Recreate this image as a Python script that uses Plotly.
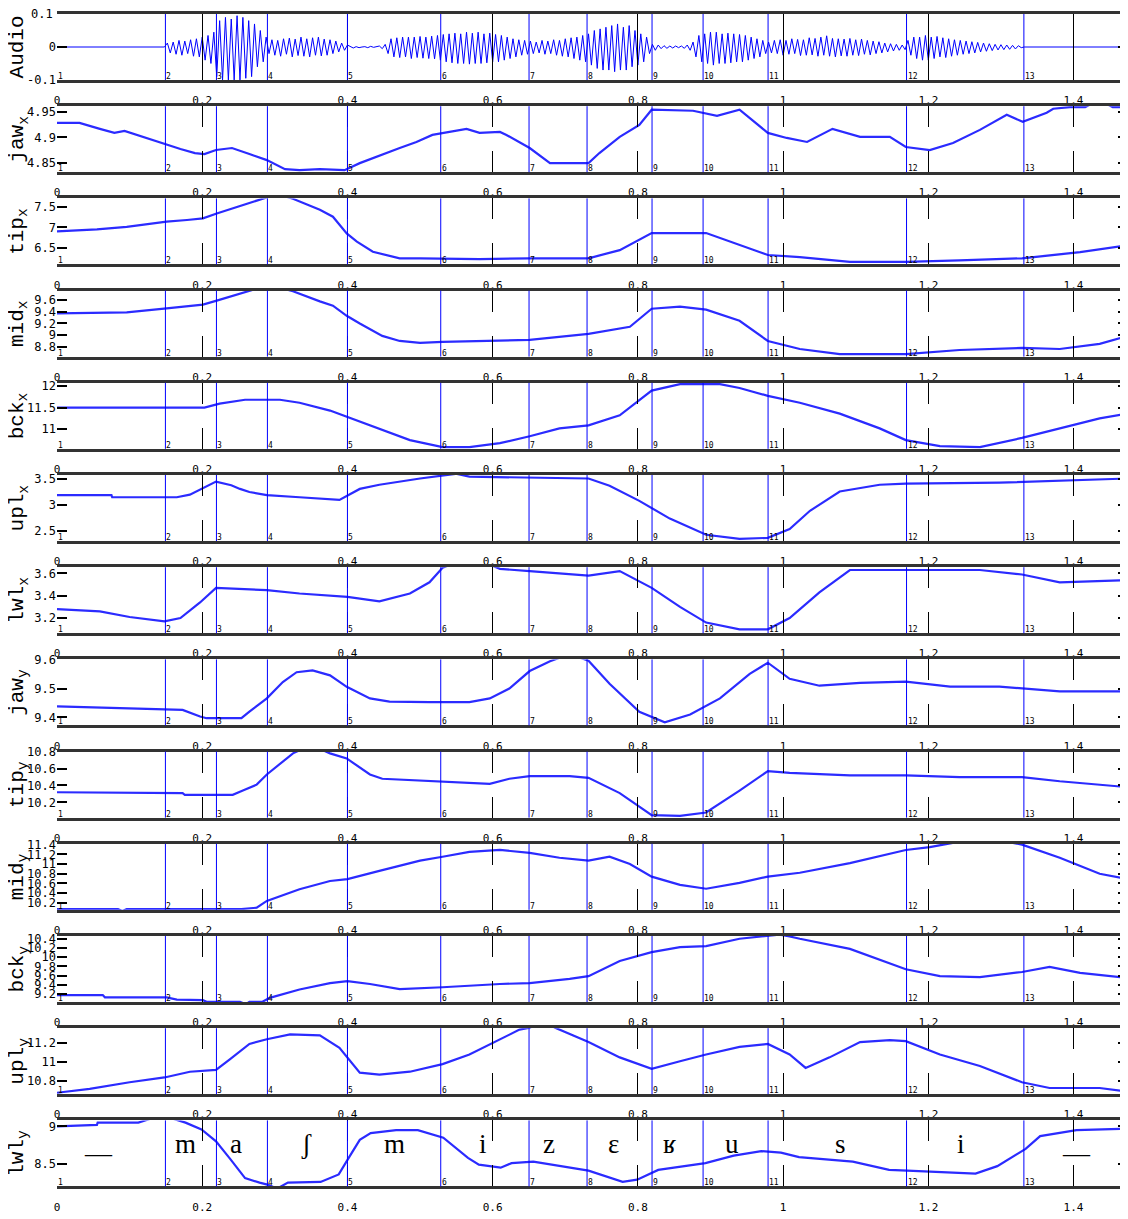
import plotly.graph_objects as go

# ---------------- data ----------------
x_ticks = [0, 0.2, 0.4, 0.6, 0.8, 1.0, 1.2, 1.4]
x_max = 1.475

boundaries = [0.0, 0.1493, 0.2196, 0.2898, 0.4000, 0.5285, 0.6501, 0.7300,
              0.8195, 0.8898, 0.9793, 1.1700, 1.3316]
boundary_labels = ["1", "2", "3", "4", "5", "6", "7", "8", "9", "10", "11", "12", "13"]

phones = ["—", "m", "a", "ʃ", "m", "i", "z", "ɛ", "ʁ", "u", "s", "i", "—"]
phone_x = [0.057, 0.177, 0.247, 0.343, 0.465, 0.586, 0.678, 0.766, 0.843, 0.930, 1.079, 1.245, 1.404]
phone_y = 8.76

panel_titles = ["Audio", "jaw<sub>x</sub>", "tip<sub>x</sub>", "mid<sub>x</sub>", "bck<sub>x</sub>",
                "upl<sub>x</sub>", "lwl<sub>x</sub>", "jaw<sub>y</sub>", "tip<sub>y</sub>",
                "mid<sub>y</sub>", "bck<sub>y</sub>", "upl<sub>y</sub>", "lwl<sub>y</sub>"]

# audio samples (start time, sample step, values)
audio_t0 = 0.148
audio_dt = 0.004
audio_vals = [
    0.0, 0.012, -0.018, 0.015, -0.022, 0.02, -0.025, 0.018, -0.02, 0.022, -0.028, 0.025, -0.03,
    0.03, -0.04, 0.035, -0.05, 0.045,
    -0.09, 0.08, -0.1, 0.09, -0.1, 0.085, -0.1, 0.095, -0.1, 0.09, -0.095, 0.08, -0.09, 0.07,
    -0.06, 0.05, -0.045, 0.03,
    -0.02, 0.022, -0.025, 0.02, -0.028, 0.025, -0.022, 0.027, -0.03, 0.024, -0.026, 0.03, -0.028, 0.025,
    -0.03, 0.028, -0.025, 0.03, -0.027, 0.024, -0.025, 0.022, -0.02, 0.018, -0.015, 0.012, -0.01, 0.006,
    0.002, -0.003, 0.001, -0.002, 0.0, 0.001, -0.002, 0.002, -0.001, 0.0, 0.003, -0.005, 0.008,
    -0.02, 0.025, -0.03, 0.028, -0.032, 0.03, -0.03, 0.03, -0.035, 0.03, -0.032, 0.032, -0.034, 0.03,
    -0.035, 0.033, -0.036, 0.035,
    -0.04, 0.038, -0.045, 0.04, -0.048, 0.042, -0.05, 0.04, -0.05, 0.045, -0.052, 0.042, -0.05, 0.045,
    -0.05, 0.04, -0.048, 0.042, -0.045, 0.038, -0.045, 0.035, -0.04, 0.03, -0.035, 0.025, -0.03, 0.022,
    -0.025, 0.02, -0.022,
    0.018, -0.02, 0.015, -0.018, 0.02, -0.022, 0.018, -0.02, 0.022, -0.025, 0.02, -0.028, 0.025, -0.03,
    0.028, -0.035, 0.03, -0.04, 0.035, -0.045,
    0.04, -0.055, 0.05, -0.065, 0.055, -0.07, 0.06, -0.07, 0.065, -0.075, 0.07, -0.07, 0.06, -0.07,
    0.065, -0.06, 0.05, -0.055, 0.04, -0.045, 0.03, -0.02,
    0.008, -0.01, 0.006, -0.005, 0.004, -0.004, 0.003, -0.003, 0.003, -0.002, 0.003, -0.004, 0.006, -0.01, 0.015,
    -0.03, 0.035, -0.045, 0.04, -0.05, 0.045, -0.055, 0.045, -0.05, 0.04, -0.05, 0.042, -0.048, 0.04,
    -0.045, 0.038, -0.045, 0.035, -0.04, 0.03, -0.035, 0.025, -0.03, 0.02, -0.02,
    0.015, -0.018, 0.02, -0.02, 0.022, -0.025, 0.02, -0.022, 0.025, -0.02, 0.023, -0.026, 0.022, -0.025,
    0.028, -0.024, 0.026, -0.028, 0.03, -0.025, 0.034, -0.028, 0.026, -0.03, 0.025, -0.027, 0.024, -0.028,
    0.026, -0.025, 0.022, -0.026, 0.024, -0.022, 0.02, -0.024, 0.018, -0.02, 0.016, -0.018, 0.012, -0.015,
    0.01, -0.012, 0.008, -0.01, 0.006, -0.008,
    0.02, -0.025, 0.03, -0.035, 0.03, -0.04, 0.035, -0.04, 0.03, -0.035, 0.032, -0.03, 0.028, -0.032,
    0.025, -0.028, 0.022, -0.025, 0.02, -0.022, 0.018, -0.02, 0.016, -0.018, 0.014, -0.015, 0.012, -0.013,
    0.01, -0.011, 0.008, -0.009, 0.007, -0.008, 0.006, -0.007, 0.005, -0.006, 0.004, -0.002,
]

jaw_x_t = [0, 0.031, 0.059, 0.079, 0.093, 0.114, 0.148, 0.170, 0.190, 0.203, 0.219, 0.241, 0.265, 0.289,
           0.314, 0.334, 0.362, 0.396, 0.417, 0.444, 0.472, 0.495, 0.517, 0.564, 0.582, 0.610, 0.619,
           0.651, 0.679, 0.732, 0.747, 0.775, 0.802, 0.819, 0.876, 0.909, 0.940, 0.979, 1.005, 1.033,
           1.068, 1.106, 1.147, 1.169, 1.202, 1.234, 1.271, 1.308, 1.330, 1.363, 1.372, 1.395, 1.416,
           1.435, 1.454, 1.475]
jaw_x_v = [4.929, 4.929, 4.917, 4.909, 4.913, 4.903, 4.887, 4.877, 4.869, 4.867, 4.875, 4.879, 4.867, 4.855,
           4.837, 4.835, 4.837, 4.835, 4.849, 4.863, 4.879, 4.891, 4.905, 4.917, 4.909, 4.911, 4.905,
           4.879, 4.849, 4.849, 4.869, 4.901, 4.925, 4.955, 4.953, 4.943, 4.955, 4.909, 4.899, 4.891,
           4.917, 4.901, 4.901, 4.881, 4.875, 4.889, 4.915, 4.945, 4.931, 4.949, 4.957, 4.960, 4.960,
           4.975, 4.960, 4.960]

tip_x_t = [0, 0.055, 0.096, 0.151, 0.179, 0.201, 0.220, 0.242, 0.270, 0.283, 0.304, 0.325, 0.334, 0.362,
           0.380, 0.399, 0.413, 0.435, 0.472, 0.500, 0.582, 0.651, 0.732, 0.775, 0.819, 0.894, 0.979,
           1.023, 1.092, 1.169, 1.243, 1.329, 1.409, 1.475]
tip_x_v = [6.90, 6.95, 7.01, 7.14, 7.18, 7.22, 7.34, 7.47, 7.63, 7.70, 7.82, 7.70, 7.63, 7.43,
           7.26, 6.85, 6.65, 6.40, 6.24, 6.24, 6.22, 6.24, 6.24, 6.44, 6.86, 6.86, 6.32,
           6.27, 6.15, 6.15, 6.19, 6.24, 6.39, 6.56]

mid_x_t = [0, 0.096, 0.151, 0.179, 0.201, 0.220, 0.242, 0.261, 0.293, 0.325, 0.334, 0.362, 0.380, 0.399,
           0.417, 0.448, 0.472, 0.500, 0.531, 0.651, 0.732, 0.789, 0.819, 0.858, 0.894, 0.940, 0.979,
           1.023, 1.078, 1.169, 1.243, 1.329, 1.381, 1.436, 1.475]
mid_x_v = [9.369, 9.386, 9.455, 9.484, 9.519, 9.588, 9.674, 9.748, 9.86, 9.748, 9.703, 9.576, 9.502, 9.329,
           9.197, 8.984, 8.898, 8.864, 8.881, 8.916, 9.019, 9.140, 9.450, 9.484, 9.433, 9.243, 8.898,
           8.760, 8.674, 8.674, 8.743, 8.778, 8.760, 8.847, 8.984]

bck_x_t = [0, 0.203, 0.224, 0.259, 0.307, 0.334, 0.376, 0.431, 0.486, 0.531, 0.568, 0.610, 0.651, 0.692,
           0.732, 0.775, 0.819, 0.858, 0.913, 0.940, 0.979, 1.023, 1.078, 1.133, 1.169, 1.216, 1.271,
           1.329, 1.381, 1.436, 1.475]
bck_x_v = [11.50, 11.50, 11.59, 11.68, 11.68, 11.61, 11.43, 11.09, 10.75, 10.59, 10.59, 10.68, 10.84, 11.02,
           11.09, 11.32, 11.89, 12.04, 12.04, 11.95, 11.77, 11.61, 11.36, 11.02, 10.75, 10.61, 10.59,
           10.80, 11.02, 11.25, 11.36]

upl_x_t = [0, 0.075, 0.076, 0.165, 0.183, 0.219, 0.240, 0.252, 0.265, 0.289, 0.334, 0.389, 0.417, 0.444,
           0.500, 0.531, 0.550, 0.568, 0.651, 0.732, 0.761, 0.802, 0.844, 0.894, 0.940, 0.979, 1.009,
           1.037, 1.078, 1.133, 1.169, 1.298, 1.475]
upl_x_v = [3.19, 3.19, 3.15, 3.15, 3.20, 3.45, 3.38, 3.31, 3.25, 3.19, 3.15, 3.10, 3.31, 3.39,
           3.51, 3.56, 3.60, 3.545, 3.525, 3.51, 3.37, 3.08, 2.74, 2.43, 2.35, 2.37, 2.54,
           2.89, 3.26, 3.39, 3.41, 3.43, 3.51]

lwl_x_t = [0, 0.059, 0.100, 0.148, 0.170, 0.197, 0.219, 0.252, 0.289, 0.334, 0.400, 0.444, 0.486, 0.513,
           0.531, 0.570, 0.605, 0.610, 0.651, 0.732, 0.775, 0.819, 0.858, 0.894, 0.940, 0.979, 1.009,
           1.050, 1.092, 1.169, 1.271, 1.329, 1.381, 1.475]
lwl_x_v = [3.28, 3.26, 3.21, 3.17, 3.20, 3.34, 3.47, 3.46, 3.45, 3.42, 3.39, 3.35, 3.42, 3.52,
           3.65, 3.75, 3.65, 3.64, 3.62, 3.58, 3.62, 3.47, 3.30, 3.16, 3.10, 3.10, 3.20,
           3.43, 3.63, 3.63, 3.63, 3.59, 3.52, 3.54]

jaw_y_t = [0, 0.146, 0.173, 0.197, 0.206, 0.254, 0.265, 0.289, 0.311, 0.330, 0.352, 0.376, 0.399, 0.431,
           0.458, 0.513, 0.568, 0.596, 0.623, 0.651, 0.679, 0.706, 0.732, 0.761, 0.802, 0.837, 0.872,
           0.913, 0.954, 0.979, 1.009, 1.050, 1.106, 1.169, 1.230, 1.298, 1.329, 1.381, 1.475]
jaw_y_v = [9.438, 9.430, 9.426, 9.403, 9.397, 9.397, 9.420, 9.466, 9.523, 9.557, 9.563, 9.546, 9.506, 9.466,
           9.455, 9.453, 9.453, 9.466, 9.500, 9.561, 9.595, 9.620, 9.597, 9.517, 9.419, 9.383, 9.410,
           9.466, 9.551, 9.590, 9.534, 9.510, 9.520, 9.524, 9.507, 9.507, 9.500, 9.490, 9.490]

tip_y_t = [0, 0.124, 0.173, 0.176, 0.242, 0.256, 0.275, 0.289, 0.307, 0.325, 0.350, 0.376, 0.399, 0.431,
           0.448, 0.495, 0.513, 0.568, 0.596, 0.623, 0.651, 0.706, 0.732, 0.775, 0.819, 0.858, 0.894,
           0.940, 0.979, 1.009, 1.092, 1.169, 1.243, 1.329, 1.381, 1.475]
tip_y_v = [10.32, 10.31, 10.31, 10.29, 10.29, 10.34, 10.41, 10.53, 10.65, 10.78, 10.88, 10.78, 10.72, 10.53,
           10.48, 10.46, 10.45, 10.43, 10.42, 10.48, 10.51, 10.51, 10.49, 10.31, 10.05, 10.04, 10.08,
           10.34, 10.57, 10.55, 10.52, 10.52, 10.50, 10.50, 10.45, 10.38]

mid_y_t = [0, 0.084, 0.090, 0.096, 0.254, 0.275, 0.289, 0.334, 0.376, 0.400, 0.444, 0.500, 0.531, 0.568,
           0.610, 0.651, 0.692, 0.732, 0.761, 0.789, 0.819, 0.858, 0.894, 0.940, 0.979, 1.023, 1.092,
           1.169, 1.202, 1.223, 1.276, 1.329, 1.381, 1.436, 1.475]
mid_y_v = [10.07, 10.07, 10.03, 10.07, 10.07, 10.10, 10.24, 10.48, 10.65, 10.69, 10.86, 11.07, 11.15, 11.25,
           11.29, 11.23, 11.13, 11.07, 11.15, 11.00, 10.74, 10.57, 10.49, 10.61, 10.74, 10.82, 11.02,
           11.29, 11.35, 11.40, 11.55, 11.40, 11.13, 10.80, 10.69]

bck_y_t = [0, 0.063, 0.066, 0.151, 0.165, 0.201, 0.206, 0.252, 0.260, 0.265, 0.283, 0.293, 0.334, 0.376,
           0.400, 0.431, 0.472, 0.531, 0.610, 0.651, 0.706, 0.732, 0.775, 0.819, 0.858, 0.894, 0.940,
           0.979, 0.995, 1.009, 1.023, 1.092, 1.169, 1.216, 1.271, 1.329, 1.367, 1.409, 1.475]
bck_y_v = [9.18, 9.18, 9.13, 9.13, 9.08, 9.07, 9.035, 9.035, 8.98, 9.035, 9.035, 9.12, 9.30, 9.44,
           9.48, 9.42, 9.31, 9.35, 9.42, 9.44, 9.53, 9.59, 9.92, 10.11, 10.22, 10.24, 10.40,
           10.45, 10.49, 10.45, 10.40, 10.18, 9.74, 9.59, 9.57, 9.68, 9.79, 9.66, 9.55]

upl_y_t = [0, 0.045, 0.100, 0.148, 0.183, 0.219, 0.238, 0.265, 0.289, 0.321, 0.362, 0.389, 0.417, 0.444,
           0.486, 0.531, 0.568, 0.610, 0.637, 0.651, 0.669, 0.686, 0.732, 0.775, 0.819, 0.858, 0.894,
           0.940, 0.979, 1.009, 1.031, 1.064, 1.106, 1.147, 1.169, 1.216, 1.271, 1.329, 1.367, 1.436, 1.475]
upl_y_v = [10.68, 10.72, 10.79, 10.84, 10.90, 10.92, 11.03, 11.19, 11.24, 11.29, 11.28, 11.15, 10.89, 10.87,
           10.90, 10.98, 11.08, 11.24, 11.34, 11.36, 11.43, 11.36, 11.21, 11.05, 10.93, 11.01, 11.08,
           11.16, 11.19, 11.08, 10.94, 11.05, 11.21, 11.23, 11.22, 11.08, 10.96, 10.79, 10.73, 10.73, 10.69]

lwl_y_t = [0, 0.055, 0.056, 0.112, 0.144, 0.177, 0.199, 0.219, 0.239, 0.259, 0.279, 0.291, 0.303, 0.318,
           0.363, 0.388, 0.403, 0.417, 0.432, 0.467, 0.497, 0.532, 0.566, 0.581, 0.611, 0.626, 0.656,
           0.697, 0.732, 0.779, 0.799, 0.828, 0.893, 0.932, 0.970, 0.997, 1.022, 1.096, 1.146, 1.171,
           1.265, 1.295, 1.334, 1.354, 1.404, 1.475]
lwl_y_v = [9.00, 9.02, 9.05, 9.05, 9.15, 9.05, 8.96, 8.80, 8.56, 8.31, 8.25, 8.22, 8.17, 8.25,
           8.26, 8.36, 8.60, 8.82, 8.91, 8.95, 8.95, 8.85, 8.58, 8.49, 8.45, 8.51, 8.53,
           8.47, 8.41, 8.26, 8.29, 8.42, 8.51, 8.61, 8.67, 8.65, 8.59, 8.53, 8.42, 8.41,
           8.37, 8.47, 8.70, 8.87, 8.95, 8.97]

y_ranges = [[-0.1002, 0.1002], [4.831, 4.962], [6.09, 7.71], [8.63, 9.76], [10.55, 12.07], [2.31, 3.577],
            [3.065, 3.655], [9.372, 9.6015], [10.02, 10.801], [10.056, 11.417], [9.03, 10.46],
            [10.665, 11.355], [8.20, 9.08]]
y_ticks = [[-0.1, 0, 0.1], [4.85, 4.9, 4.95], [6.5, 7, 7.5], [8.8, 9, 9.2, 9.4, 9.6], [11, 11.5, 12],
           [2.5, 3, 3.5], [3.2, 3.4, 3.6], [9.4, 9.5, 9.6], [10.2, 10.4, 10.6, 10.8],
           [10.2, 10.4, 10.6, 10.8, 11, 11.2, 11.4], [9.2, 9.4, 9.6, 9.8, 10, 10.2, 10.4],
           [10.8, 11, 11.2], [8.5, 9]]

# ---------------- build ----------------
audio_t = [0.0] + [audio_t0 + i * audio_dt for i in range(len(audio_vals))] + [1.332, x_max]
audio_y = [0.0] + audio_vals + [0.0, 0.0]

series = [(audio_t, audio_y), (jaw_x_t, jaw_x_v), (tip_x_t, tip_x_v), (mid_x_t, mid_x_v),
          (bck_x_t, bck_x_v), (upl_x_t, upl_x_v), (lwl_x_t, lwl_x_v), (jaw_y_t, jaw_y_v),
          (tip_y_t, tip_y_v), (mid_y_t, mid_y_v), (bck_y_t, bck_y_v), (upl_y_t, upl_y_v),
          (lwl_y_t, lwl_y_v)]

# page body has an 8px margin, so the figure is sized to fit the window exactly
W, H = 1120, 1211
M_L, M_R, M_T, M_B = 49, 0, 6, 32
PH = H - M_T - M_B
PERIOD = 92.2
PANEL = 66.0

def fmt(v):
    return ("%g" % v)

fig = go.Figure()
shapes = []
annotations = []
layout = {}
tick_font = dict(family="DejaVu Sans Mono", size=11, color="black")
ytick_font = dict(family="DejaVu Sans Mono", size=12, color="black")

for i, (xs, ys) in enumerate(series):
    n = "" if i == 0 else str(i + 1)
    xa, ya = "x" + n, "y" + n
    top = 1 - (PERIOD * i) / PH
    bot = top - PANEL / PH
    fig.add_trace(go.Scatter(
        x=xs, y=ys, mode="lines", xaxis=xa, yaxis=ya, hoverinfo="skip",
        line=dict(color="#0000ff" if i == 0 else "#2b2bff", width=1 if i == 0 else 2.2),
    ))
    layout["xaxis" + n] = dict(
        domain=[0, 1], anchor=ya, range=[0, x_max],
        tickvals=x_ticks, ticktext=[fmt(v) for v in x_ticks],
        ticks="inside", ticklen=33 if i == 0 else 21, tickwidth=1, tickcolor="black",
        showline=True, linecolor="#333333", linewidth=3, mirror="ticks",
        showgrid=False, zeroline=False, tickfont=tick_font, ticklabelstandoff=8,
    )
    ytext = [fmt(v) for v in y_ticks[i]]
    if i == 0:
        # the top label of the audio panel sits on the page edge; drawn as an annotation below
        ytext[-1] = ""
        annotations.append(dict(x=0, y=y_ticks[0][-1], xref="paper", yref=ya, text=fmt(y_ticks[0][-1]),
                                showarrow=False, xanchor="right", yanchor="middle", xshift=-2,
                                font=ytick_font))
    layout["yaxis" + n] = dict(
        domain=[max(bot, 0), min(top, 1)], anchor=xa, range=y_ranges[i],
        tickvals=y_ticks[i], ticktext=ytext,
        ticks="inside", ticklen=10, tickwidth=2, tickcolor="black",
        showline=False, mirror="ticks", showgrid=False, zeroline=False,
        tickfont=ytick_font,
    )
    for b, lab in zip(boundaries, boundary_labels):
        if b > 0:
            shapes.append(dict(type="line", xref=xa, yref=ya + " domain", x0=b, x1=b, y0=0, y1=1,
                               line=dict(color="#0000ff", width=1), layer="above"))
        annotations.append(dict(x=b, y=0, xref=xa, yref=ya + " domain", text=lab, showarrow=False,
                                xanchor="left", yanchor="bottom", xshift=-1, yshift=-3,
                                font=dict(family="DejaVu Sans Mono", size=8, color="black")))
    annotations.append(dict(x=-0.036, y=0.5, xref="paper", yref=ya + " domain", text=panel_titles[i],
                            showarrow=False, textangle=-90, xanchor="center", yanchor="middle",
                            font=dict(family="Liberation Mono", size=21, color="black")))

for ph, px in zip(phones, phone_x):
    annotations.append(dict(x=px, y=phone_y, xref="x13", yref="y13", text=ph, showarrow=False,
                            xanchor="center", yanchor="middle", yshift=-9 if ph == "—" else 0,
                            font=dict(family="Liberation Serif", size=27, color="black")))

fig.update_layout(
    width=W, height=H, margin=dict(l=M_L, r=M_R, t=M_T, b=M_B),
    plot_bgcolor="white", paper_bgcolor="white", showlegend=False,
    shapes=shapes, annotations=annotations, **layout,
)

fig.write_html("out.html")
